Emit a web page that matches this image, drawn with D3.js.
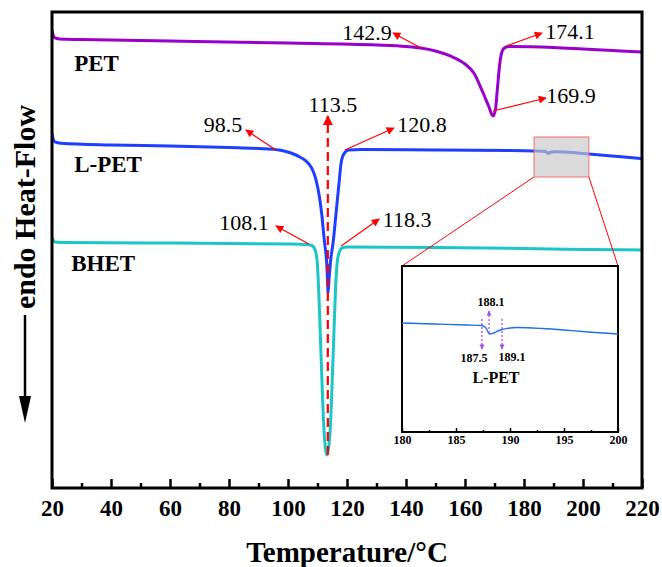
<!DOCTYPE html>
<html lang="en">
<head>
  <meta charset="UTF-8">
  <title>DSC</title>
  <style>
    body { margin: 0; background: #fff; }
  </style>
</head>
<body>

  <svg id="svg" width="662" height="567"></svg>

  <script src="https://d3js.org/d3.v7.min.js"></script>
  <script>
    // readings: [temperature, heat flow (a.u., endo down)]
    const pet = [[20,3.78],[20.4,4.83],[21,5.46],[22.5,5.67],[30,5.78],[60,6.09],[100,6.51],[130,6.93],
      [140,7.25],[145,7.56],[150,8.19],[155,9.24],[160,10.92],[163,12.82],[166,16.81],[168,19.75],
      [169.5,21.85],[170.3,20.59],[171,15.97],[171.7,11.34],[172.5,8.40],[173.5,7.46],[175,7.25],
      [190,7.46],[200,7.77],[210,8.09],[220,8.40]]
    const lpet = [[20,25.42],[20.4,26.68],[21,27.31],[23,27.58],[40,27.94],[60,28.15],[80,28.47],[90,28.68],
      [97,28.99],[101,29.62],[104,30.46],[106.8,31.72],[108.5,33.40],[109.5,35.29],[110.6,38.66],
      [111.4,42.23],[112.3,47.90],[112.7,50.00],[113.1,52.52],[113.4,56.30],[113.6,59.03],[113.9,56.30],
      [114.4,52.52],[115.4,47.90],[116.3,42.23],[117.4,35.29],[118,31.72],[118.6,30.25],[119.4,29.41],
      [120.5,28.99],[125,28.89],[150,28.99],[175,29.10],[183,29.20],[187.4,29.31],[188.1,29.73],
      [189,29.45],[190.5,29.37],[202,29.83],[210,30.25],[220,30.82]]
    const bhet = [[20,47.27],[20.4,47.90],[21,48.32],[23,48.42],[60,48.53],[100,48.74],[106,48.84],
      [108.1,49.05],[109.3,50.21],[109.9,52.52],[110.4,58.40],[110.9,66.81],[111.5,77.31],[112.2,87.82],
      [113.2,93.07],[114.3,87.82],[115.0,77.31],[115.6,66.81],[116.1,58.40],[116.7,52.52],[117.4,50.42],
      [118.3,49.58],[120,49.37],[150,49.47],[180,49.68],[200,49.89],[220,50.00]]
    // inset: L-PET 180-200 °C
    const lpetZoom = [[180,34.34],[183,34.94],[186,35.54],[187.4,35.84],[187.8,37.6],[188.1,40.96],
      [188.5,40.36],[189.1,38.55],[189.8,37.53],[190.7,37.05],[193,37.65],[195,38.55],[197,39.64],[200,40.96]]

    const xTicks = [20, 40, 60, 80, 100, 120, 140, 160, 180, 200, 220]
    const xMinor = [30, 50, 70, 90, 110, 130, 150, 170, 190, 210]
    const insetTicks = [180, 185, 190, 195, 200]
    const insetMinor = [182.5, 187.5, 192.5, 197.5]

    // peak labels: text, temperature, heat flow of the marked point
    const peakNotes = [['142.9',145.1,7.56],['174.1',173.9,7.14],['169.9',169.5,20.8],
      ['98.5',95.9,29.0],['120.8',119.3,29.0],['108.1',107.1,48.74],['118.3',118.0,49.16]]
    const mainPeak = ['113.5', 113.5, 93.07]
    const zoomNotes = [['188.1',188.06,40.4],['187.5',187.4,31.9],['189.1',189.26,31.9]]
    const zoomBox = [183.4, 202.0, 26.26, 34.66]

    // layout
    const m = {left: 52, right: 642, top: 12, bottom: 488}
    const ins = {left: 402, right: 618, top: 266, bottom: 432}
    // arrow tip and text offsets (px) from the marked point
    const noteOffsets = [[-28,-15,-54,-8],[36,-13,64,-7],[53,-13,78,-8],[-30,-20,-53,-18],
      [49,-22,77,-18],[-33,-18,-65,-14],[38,-27,66,-19]]
    const zoomOffsets = [[0,-22,2,-27],[0,30,-8,43],[0,30,10,42]]
    const serif = '"Times New Roman", "Liberation Serif", serif'

    const svg = d3.select('#svg')
    const x = d3.scaleLinear().domain([20, 220]).range([m.left, m.right])
    const y = d3.scaleLinear().domain([0, 100]).range([m.top, m.bottom])
    const ix = d3.scaleLinear().domain([180, 200]).range([ins.left, ins.right])
    const iy = d3.scaleLinear().domain([0, 100]).range([ins.top, ins.bottom])

    const defs = svg.append('defs')
    function head(id, w, h, color) {
      defs.append('marker').attr('id', id)
        .attr('viewBox', '0 0 10 10').attr('refX', 9).attr('refY', 5)
        .attr('markerWidth', w).attr('markerHeight', h)
        .attr('markerUnits', 'userSpaceOnUse').attr('orient', 'auto')
        .append('path').attr('d', 'M0,0L10,5L0,10z').attr('fill', color)
    }
    head('redHead', 11, 8, 'red')
    head('bigHead', 13, 10, 'red')
    head('purpleHead', 6, 5, '#a64cf4')

    defs.append('clipPath').attr('id', 'plot')
      .append('rect').attr('x', m.left).attr('y', m.top)
      .attr('width', m.right - m.left).attr('height', m.bottom - m.top)

    const line = d3.line().x(d => x(d[0])).y(d => y(d[1])).curve(d3.curveMonotoneX)
    const curves = svg.append('g').attr('clip-path', 'url(#plot)')
    curves.append('path').datum(bhet).attr('d', line)
      .attr('fill', 'none').attr('stroke', '#1cc6c6').attr('stroke-width', 3)
    curves.append('path').datum(lpet).attr('d', line)
      .attr('fill', 'none').attr('stroke', '#1f3fff').attr('stroke-width', 3)
    curves.append('path').datum(pet).attr('d', line)
      .attr('fill', 'none').attr('stroke', '#9900cc').attr('stroke-width', 3)

    // zoomed region + connectors
    svg.append('rect')
      .attr('x', x(zoomBox[0])).attr('y', y(zoomBox[2]))
      .attr('width', x(zoomBox[1]) - x(zoomBox[0])).attr('height', y(zoomBox[3]) - y(zoomBox[2]))
      .attr('fill', '#c8c8c8').attr('fill-opacity', 0.65)
      .attr('stroke', '#f07070').attr('stroke-width', 1)
    svg.append('line')
      .attr('x1', x(zoomBox[0])).attr('y1', y(zoomBox[3])).attr('x2', ins.left).attr('y2', ins.top)
      .attr('stroke', 'red').attr('stroke-width', 1)
    svg.append('line')
      .attr('x1', x(zoomBox[1])).attr('y1', y(zoomBox[3])).attr('x2', ins.right).attr('y2', ins.top)
      .attr('stroke', 'red').attr('stroke-width', 1)

    // peak arrows
    peakNotes.forEach((n, i) => {
      const px = x(n[1]), py = y(n[2]), o = noteOffsets[i]
      svg.append('line').attr('x1', px).attr('y1', py).attr('x2', px + o[0]).attr('y2', py + o[1])
        .attr('stroke', 'red').attr('stroke-width', 1.2).attr('marker-end', 'url(#redHead)')
      svg.append('text').attr('x', px + o[2]).attr('y', py + o[3])
        .attr('text-anchor', 'middle').attr('font-size', 22).text(n[0])
    })
    svg.append('line')
      .attr('x1', x(mainPeak[1])).attr('y1', y(mainPeak[2]))
      .attr('x2', x(mainPeak[1])).attr('y2', y(21.85))
      .attr('stroke', 'red').attr('stroke-width', 2.2).attr('stroke-dasharray', '9,5')
      .attr('marker-end', 'url(#bigHead)')
    svg.append('text').attr('x', x(mainPeak[1]) + 5).attr('y', y(21.0))
      .attr('text-anchor', 'middle').attr('font-size', 22).text(mainPeak[0])

    // sample names
    const names = [['PET', 27.5, 12.39], ['L-PET', 27.5, 33.6], ['BHET', 26.5, 54.4]]
    svg.selectAll('.name').data(names).enter().append('text')
      .attr('x', d => x(d[1])).attr('y', d => y(d[2]))
      .attr('font-size', 23).attr('font-weight', 'bold').text(d => d[0])

    // frame and x axis
    svg.append('rect').attr('x', m.left).attr('y', m.top)
      .attr('width', m.right - m.left).attr('height', m.bottom - m.top)
      .attr('fill', 'none').attr('stroke', '#000').attr('stroke-width', 3)
    const xAxis = svg.append('g').attr('transform', `translate(0,${m.bottom})`)
      .call(d3.axisBottom(x).tickValues(xTicks).tickSize(-9).tickPadding(12).tickFormat(d3.format('d')))
    xAxis.select('.domain').remove()
    xAxis.selectAll('line').attr('stroke-width', 2.5)
    xAxis.selectAll('text').attr('font-size', 23).attr('font-weight', 'bold').attr('fill', '#000')
    const xMin = svg.append('g').attr('transform', `translate(0,${m.bottom})`)
      .call(d3.axisBottom(x).tickValues(xMinor).tickSize(-5).tickFormat(''))
    xMin.select('.domain').remove()
    xMin.selectAll('line').attr('stroke-width', 2.5)

    svg.append('text').attr('x', (m.left + m.right) / 2).attr('y', 562)
      .attr('text-anchor', 'middle').attr('font-size', 29).attr('font-weight', 'bold')
      .text('Temperature/\u00B0C')
    svg.append('text').attr('transform', 'translate(35,207) rotate(-90)')
      .attr('text-anchor', 'middle').attr('font-size', 30).attr('font-weight', 'bold')
      .text('endo Heat-Flow')
    svg.append('line').attr('x1', 25).attr('y1', 315).attr('x2', 25).attr('y2', 400)
      .attr('stroke', '#000').attr('stroke-width', 2.5)
    svg.append('path').attr('d', 'M19,396L31,396L25,423Z').attr('fill', '#000')

    // inset
    const inset = svg.append('g')
    inset.append('rect').attr('x', ins.left).attr('y', ins.top)
      .attr('width', ins.right - ins.left).attr('height', ins.bottom - ins.top)
      .attr('fill', '#fff').attr('stroke', '#000').attr('stroke-width', 2)
    const iline = d3.line().x(d => ix(d[0])).y(d => iy(d[1])).curve(d3.curveMonotoneX)
    inset.append('path').datum(lpetZoom).attr('d', iline)
      .attr('fill', 'none').attr('stroke', '#1e6ee6').attr('stroke-width', 1.4)
    zoomNotes.forEach((n, i) => {
      const px = ix(n[1]), py = iy(n[2]), o = zoomOffsets[i]
      inset.append('line').attr('x1', px).attr('y1', py).attr('x2', px + o[0]).attr('y2', py + o[1])
        .attr('stroke', '#a64cf4').attr('stroke-width', 1.3).attr('stroke-dasharray', '2,2')
        .attr('marker-end', 'url(#purpleHead)')
      inset.append('text').attr('x', px + o[2]).attr('y', py + o[3])
        .attr('text-anchor', 'middle').attr('font-size', 12).attr('font-weight', 'bold').text(n[0])
    })
    inset.append('text').attr('x', ix(188.7)).attr('y', iy(70.5))
      .attr('text-anchor', 'middle').attr('font-size', 16).attr('font-weight', 'bold').text('L-PET')
    const iAxis = inset.append('g').attr('transform', `translate(0,${ins.bottom})`)
      .call(d3.axisBottom(ix).tickValues(insetTicks).tickSize(-4).tickPadding(3.5).tickFormat(d3.format('d')))
    iAxis.select('.domain').remove()
    iAxis.selectAll('line').attr('stroke-width', 1.5)
    iAxis.selectAll('text').attr('font-size', 12).attr('font-weight', 'bold').attr('fill', '#000')
    const iMin = inset.append('g').attr('transform', `translate(0,${ins.bottom})`)
      .call(d3.axisBottom(ix).tickValues(insetMinor).tickSize(-2).tickFormat(''))
    iMin.select('.domain').remove()
    iMin.selectAll('line').attr('stroke-width', 1.5)

    svg.selectAll('text').style('font-family', serif)
  </script>
</body>
</html>
